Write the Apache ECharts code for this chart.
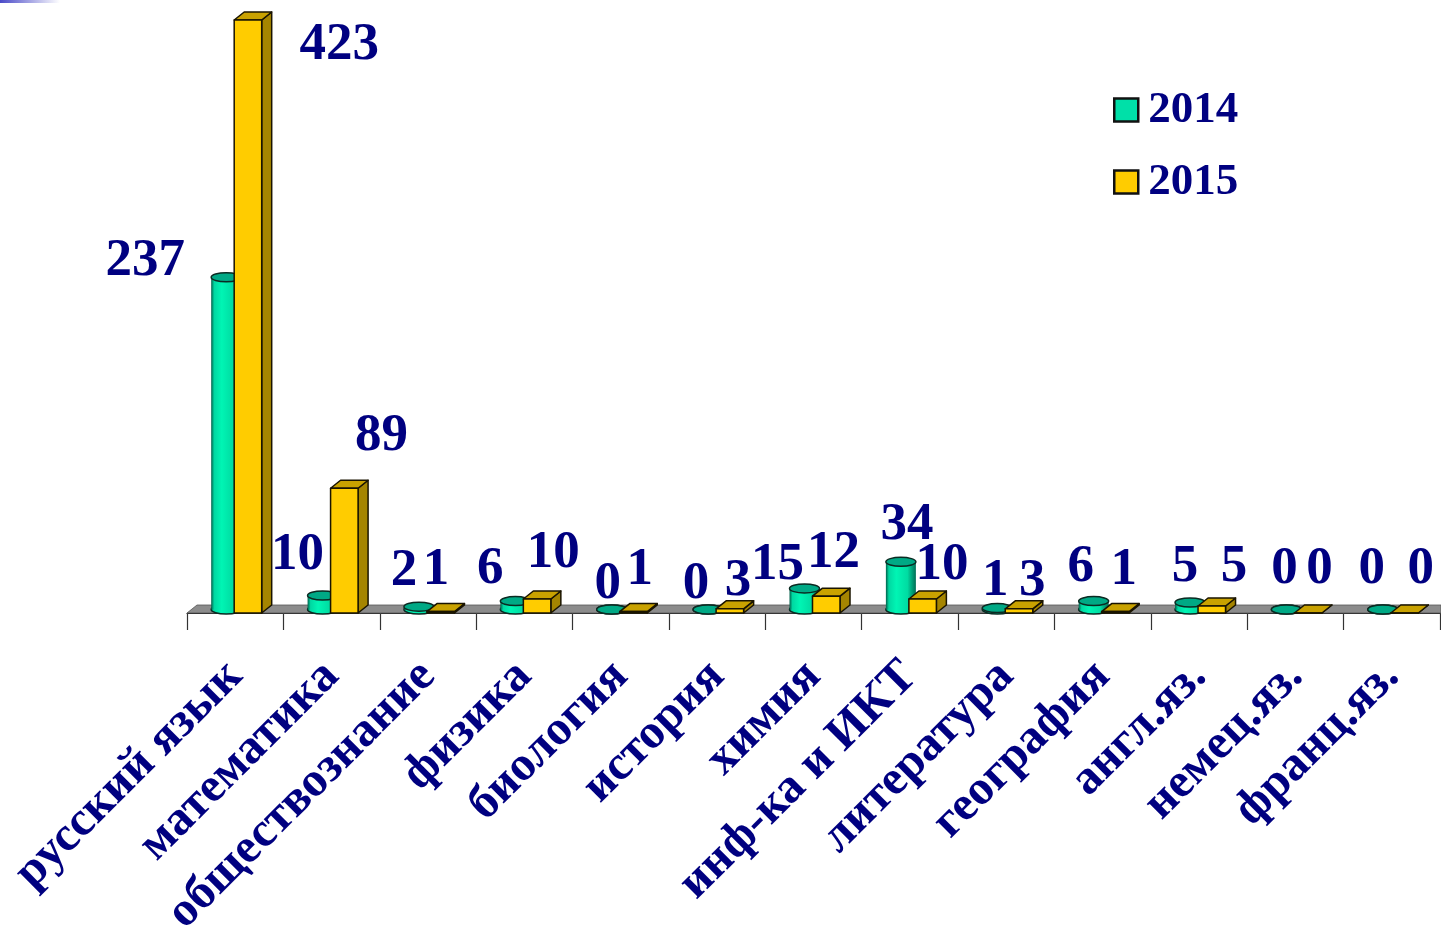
<!DOCTYPE html>
<html><head><meta charset="utf-8">
<style>html,body{margin:0;padding:0;background:#fff}#c{width:1441px;height:928px}</style>
<script src="https://cdn.jsdelivr.net/npm/echarts@6/dist/echarts.min.js"></script>
</head><body><div id="c"></div>
<script>
const categories = ['русский язык','математика','обществознание','физика','биология','история','химия','инф-ка и ИКТ','литература','география','англ.яз.','немец.яз.','франц.яз.'];
const values2014 = [237,10,2,6,0,0,15,34,1,6,5,0,0];
const values2015 = [423,89,1,10,1,3,12,10,3,1,5,0,0];

const FONT = '"Liberation Serif","Times New Roman",serif';
const NAVY = '#000080';
// hand-placed data labels of the original: offset from each bar's top
const shift2014 = [[-90,-21],[-34,-46],[-24,-41],[-34,-37],[-13,-31],[-21,-31],[-36,-29],[-3,-42],[-11,-32],[-22,-39],[-14,-41],[-11,-46],[-20,-46]];
const shift2015 = [[104,23],[50,-54],[8,-43],[29,-48],[19,-43],[21,-29],[20,-45],[32,-36],[26,-29],[21,-43],[35,-41],[24,-46],[29,-46]];

function labelEl(text, x, y){
  return {type:'text', z2:20, style:{text:String(text), x, y:y+2, align:'center', verticalAlign:'middle', fill:NAVY, font:'bold 53px '+FONT}};
}
function renderCyl(params, api){
  const i = api.value(0), v = api.value(1);
  const c = api.coord([i, v]), b = api.coord([i, 0]);
  const x0 = c[0]-24, w = 30, rx = w/2, ry = 4.5, cx = x0+rx;
  const topY = c[1]-3.5, baseY = b[1]-3.5;
  const grad = {type:'linear',x:0,y:0,x2:1,y2:0,colorStops:[{offset:0,color:'#00604a'},{offset:.1,color:'#00d8a2'},{offset:.35,color:'#00f5b4'},{offset:.72,color:'#00dca2'},{offset:1,color:'#006e55'}]};
  const line = {stroke:'#0b2a22',lineWidth:1.5};
  const s = shift2014[i];
  return {type:'group',children:[
    {type:'ellipse',shape:{cx,cy:baseY,rx,ry},style:Object.assign({fill:grad},line)},
    {type:'rect',shape:{x:x0,y:topY,width:w,height:Math.max(baseY-topY,0)},style:{fill:grad}},
    {type:'ellipse',shape:{cx,cy:topY,rx,ry},style:Object.assign({fill:'#00a985'},line)},
    labelEl(v, c[0]+s[0], c[1]+s[1])
  ]};
}
function renderBox(params, api){
  const i = api.value(0), v = api.value(1);
  const c = api.coord([i, v]), b = api.coord([i, 0]);
  const x0 = c[0]-1, w = 27.5, dx = 10, dy = 8, top = c[1], base = b[1];
  const line = {stroke:'#1a1400',lineWidth:1.5,lineJoin:'round'};
  const s = shift2015[i];
  return {type:'group',children:[
    {type:'polygon',shape:{points:[[x0+w,top],[x0+w+dx,top-dy],[x0+w+dx,base-dy],[x0+w,base]]},style:Object.assign({fill:'#a58500'},line)},
    {type:'polygon',shape:{points:[[x0,top],[x0+dx,top-dy],[x0+w+dx,top-dy],[x0+w,top]]},style:Object.assign({fill:'#c9a200'},line)},
    {type:'rect',shape:{x:x0,y:top,width:w,height:base-top},style:Object.assign({fill:'#ffcc00'},line)},
    labelEl(v, c[0]+s[0], c[1]+s[1])
  ]};
}
function renderFloor(params, api){
  const r = params.coordSys, y = r.y+r.height;
  return {type:'polygon',silent:true,shape:{points:[[r.x,y],[r.x+10,y-8],[r.x+r.width+1,y-8],[r.x+r.width+1,y]]},style:{fill:'#8c8c8c',stroke:'#555',lineWidth:.8}};
}

const chart = echarts.init(document.getElementById('c'),null,{renderer:'canvas'});
chart.setOption({
  animation:false,
  backgroundColor:'#fff',
  textStyle:{fontFamily:FONT},
  graphic:[{type:'rect',left:0,top:0,shape:{width:60,height:3},style:{fill:{type:'linear',x:0,y:0,x2:1,y2:0,colorStops:[{offset:0,color:'#4a4ac8'},{offset:1,color:'#ffffff'}]}}}],
  legend:{
    orient:'vertical',left:1108,top:76,itemWidth:24,itemHeight:23,itemGap:14,
    data:[{name:'2014',icon:'rect',itemStyle:{color:'#00e0a8',borderColor:'#111',borderWidth:2.5}},
          {name:'2015',icon:'rect',itemStyle:{color:'#ffcc00',borderColor:'#111',borderWidth:2.5}}],
    textStyle:{color:NAVY,fontFamily:FONT,fontWeight:'bold',fontSize:45,lineHeight:50,padding:[8,0,0,5]},
    selectedMode:false
  },
  grid:{left:187,top:20,width:1253,height:593,containLabel:false,outerBoundsMode:'none'},
  xAxis:{type:'category',data:categories,
    axisLine:{show:true,lineStyle:{color:'#222',width:1.2}},
    axisTick:{show:true,length:17,alignWithLabel:false,lineStyle:{color:'#333',width:1.2}},
    axisLabel:{interval:0,rotate:45,margin:56,color:NAVY,fontFamily:FONT,fontWeight:'bold',fontSize:48.5}},
  yAxis:{type:'value',min:0,max:423,show:false,splitLine:{show:false}},
  series:[
    {name:'floor',type:'custom',coordinateSystem:'cartesian2d',data:[[0,0]],renderItem:renderFloor,z:1,silent:true,clip:false},
    {name:'2014',type:'custom',coordinateSystem:'cartesian2d',data:values2014.map((v,i)=>[i,v]),renderItem:renderCyl,z:2,clip:false,itemStyle:{color:'#00e0a8'},encode:{x:0,y:1}},
    {name:'2015',type:'custom',coordinateSystem:'cartesian2d',data:values2015.map((v,i)=>[i,v]),renderItem:renderBox,z:3,clip:false,itemStyle:{color:'#ffcc00'},encode:{x:0,y:1}}
  ]
});
</script></body></html>
